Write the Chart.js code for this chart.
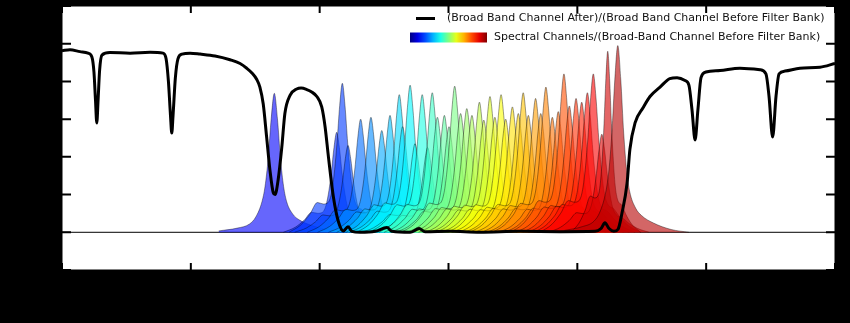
<!DOCTYPE html>
<html>
<head>
<meta charset="utf-8">
<script src="https://cdn.jsdelivr.net/npm/chart.js@4/dist/chart.umd.min.js"></script>
<style>
  html, body { margin: 0; padding: 0; background: #000; }
  #wrap { width: 850px; height: 323px; }
</style>
</head>
<body>
<div id="wrap"><canvas id="canvas" width="850" height="323"></canvas></div>
<script>
// broad band ratio (after / before filter bank)
const broadX = [0, 3.1, 7.0, 10.1, 11.6, 12.4, 13.0, 13.5, 14.0, 14.6, 15.5, 18.6, 26.4, 34.2, 39.2, 40.4, 41.3, 42.1, 42.6, 43.1, 44.0, 45.0, 46.6, 49.7, 53.6, 59.4, 65.2, 69.1, 71.7, 73.7, 75.6, 76.8, 78.1, 79.4, 80.7, 82.0, 82.7, 83.9, 85.3, 86.5, 88.5, 91.1, 92.8, 95.0, 96.9, 98.9, 100.8, 102.1, 103.4, 105.3, 107.2, 109.2, 111.0, 112.5, 115.7, 121.5, 126.1, 128.1, 135.1, 138.6, 140.9, 150.6, 162.2, 177.8, 193.3, 206.9, 209.2, 210.7, 212.3, 214.2, 215.8, 217.3, 219.3, 220.4, 222.4, 225.5, 228.2, 232.1, 235.9, 238.7, 241.8, 243.3, 244.5, 245.7, 246.8, 248.0, 249.9, 255.4, 263.1, 270.9, 273.2, 274.4, 275.8, 277.1, 278.3, 280.6, 286.4, 294.2, 300];
const broadY = [0.963, 0.968, 0.958, 0.95, 0.93, 0.85, 0.70, 0.58, 0.70, 0.86, 0.94, 0.953, 0.95, 0.955, 0.95, 0.92, 0.80, 0.62, 0.526, 0.62, 0.82, 0.92, 0.945, 0.95, 0.945, 0.935, 0.915, 0.895, 0.87, 0.845, 0.81, 0.77, 0.68, 0.507, 0.33, 0.21, 0.2, 0.28, 0.45, 0.63, 0.726, 0.76, 0.765, 0.757, 0.744, 0.72, 0.665, 0.56, 0.40, 0.19, 0.06, 0.007, 0.03, 0.005, 0.0, 0.005, 0.025, 0.005, 0.0, 0.02, 0.003, 0.005, 0.0, 0.005, 0.003, 0.005, 0.02, 0.05, 0.02, 0.005, 0.016, 0.1, 0.26, 0.44, 0.58, 0.66, 0.72, 0.77, 0.815, 0.82, 0.805, 0.78, 0.65, 0.49, 0.65, 0.82, 0.85, 0.858, 0.87, 0.862, 0.84, 0.72, 0.505, 0.72, 0.84, 0.855, 0.87, 0.875, 0.895];

// spectral channels: centre, peak height, half width
const peakCenters = [82.4, 106.6, 108.8, 111.0, 115.9, 119.9, 124.1, 127.3, 130.9, 132.2, 135.1, 137.0, 139.8, 141.9, 143.7, 145.7, 148.4, 150.2, 152.4, 154.7, 157.1, 159.1, 162.0, 163.7, 166.1, 168.0, 170.4, 172.2, 174.8, 177.1, 179.0, 181.0, 183.8, 185.8, 187.8, 190.3, 192.6, 194.8, 196.9, 199.5, 201.7, 203.9, 206.2, 209.5, 211.8, 215.7];
const peakHeights = [0.737, 0.53, 0.79, 0.46, 0.6, 0.61, 0.54, 0.62, 0.73, 0.56, 0.78, 0.47, 0.73, 0.45, 0.74, 0.61, 0.62, 0.56, 0.775, 0.63, 0.656, 0.62, 0.69, 0.595, 0.72, 0.61, 0.73, 0.6, 0.665, 0.63, 0.74, 0.62, 0.71, 0.63, 0.77, 0.61, 0.64, 0.84, 0.67, 0.71, 0.69, 0.74, 0.84, 0.52, 0.96, 0.99];
const peakWidths = [2.4, 2.3, 2.3, 2.3, 2.3, 2.3, 2.3, 2.3, 2.3, 2.3, 2.3, 2.3, 2.3, 2.3, 2.3, 2.3, 2.3, 2.3, 2.3, 2.3, 2.3, 2.3, 2.3, 2.3, 2.3, 2.3, 2.3, 2.3, 2.3, 2.3, 2.3, 2.3, 2.3, 2.3, 2.3, 2.3, 2.3, 2.3, 2.3, 2.3, 2.3, 2.3, 2.3, 2.3, 1.6, 2.3];
const smoothPeaks = [0, 45];

// normalised channel profile (offsets in half widths)
const shapeOffsets = [-9, -7, -5.5, -4.2, -3.2, -2.4, -1.8, -1.3, -0.9, -0.45, 0, 0.45, 0.9, 1.3, 1.8, 2.4, 3.4, 4.6, 6, 8];
const shapeValues = [0, 0.05, 0.12, 0.2, 0.19, 0.2, 0.27, 0.42, 0.6, 0.85, 1, 0.85, 0.6, 0.42, 0.26, 0.18, 0.15, 0.09, 0.04, 0];
const smoothOffsets = [-9, -6, -4, -3, -2, -1.5, -1, -0.5, 0, 0.5, 1, 1.5, 2, 3, 4, 6, 9, 12];
const smoothValues = [0.01, 0.03, 0.06, 0.11, 0.22, 0.33, 0.53, 0.82, 1, 0.82, 0.53, 0.33, 0.22, 0.13, 0.09, 0.05, 0.015, 0];

const legendLabels = ['(Broad Band Channel After)/(Broad Band Channel Before Filter Bank)', 'Spectral Channels/(Broad-Band Channel Before Filter Bank)'];

function jet(t, a) {
  const c = v => Math.round(255 * Math.max(0, Math.min(1, v)));
  const r = c(1.5 - Math.abs(4 * t - 3));
  const g = c(1.5 - Math.abs(4 * t - 2));
  const b = c(1.5 - Math.abs(4 * t - 1));
  return `rgba(${r},${g},${b},${a})`;
}

const datasets = [];
datasets.push({
  data: broadX.map((x, i) => ({ x: x, y: broadY[i] })),
  borderColor: '#000',
  borderWidth: 3,
  pointRadius: 0,
  fill: false,
  tension: 0.3,
  cubicInterpolationMode: 'monotone',
  order: 0
});
peakCenters.forEach((c, i) => {
  const smooth = smoothPeaks.includes(i);
  const offs = smooth ? smoothOffsets : shapeOffsets;
  const vals = smooth ? smoothValues : shapeValues;
  const t = Math.max(0.12, 0.16 + (c - 106) * 0.79 / 110);
  datasets.push({
    data: offs.map((o, k) => ({ x: c + o * peakWidths[i], y: peakHeights[i] * vals[k] })),
    borderColor: 'rgba(0,0,0,0.55)',
    borderWidth: 0.7,
    backgroundColor: jet(Math.min(1, t), 0.6),
    pointRadius: 0,
    fill: 'origin',
    tension: 0.35,
    cubicInterpolationMode: 'monotone',
    order: 100 - i
  });
});

const framePlugin = {
  id: 'frame',
  beforeDraw(chart) {
    const { ctx, chartArea: a } = chart;
    ctx.save();
    ctx.fillStyle = '#000';
    ctx.fillRect(0, 0, chart.width, chart.height);
    ctx.fillStyle = '#fff';
    ctx.fillRect(a.left, a.top, a.right - a.left, a.bottom - a.top);
    ctx.restore();
  },
  beforeDatasetsDraw(chart) {
    const { ctx, chartArea: a, scales } = chart;
    const y0 = scales.y.getPixelForValue(0);
    ctx.save();
    ctx.strokeStyle = '#000';
    ctx.lineWidth = 1;
    ctx.beginPath();
    ctx.moveTo(a.left, y0);
    ctx.lineTo(a.right, y0);
    ctx.stroke();
    ctx.restore();
  },
  afterDraw(chart) {
    const { ctx, chartArea: a, scales } = chart;
    ctx.save();
    ctx.strokeStyle = '#000';
    ctx.lineWidth = 2;
    scales.x.ticks.forEach(t => {
      const px = scales.x.getPixelForValue(t.value);
      ctx.beginPath();
      ctx.moveTo(px, a.bottom); ctx.lineTo(px, a.bottom - 7);
      ctx.moveTo(px, a.top); ctx.lineTo(px, a.top + 7);
      ctx.stroke();
    });
    scales.y.ticks.forEach(t => {
      const py = scales.y.getPixelForValue(t.value);
      ctx.beginPath();
      ctx.moveTo(a.left, py); ctx.lineTo(a.left + 9, py);
      ctx.moveTo(a.right, py); ctx.lineTo(a.right - 9, py);
      ctx.stroke();
    });
    ctx.lineWidth = 1;
    ctx.strokeRect(a.left, a.top, a.right - a.left, a.bottom - a.top);

    // legend
    ctx.font = '11px "DejaVu Sans"';
    ctx.fillStyle = '#111';
    ctx.textBaseline = 'middle';
    ctx.textAlign = 'left';
    const y1 = a.top + 12.5, y2 = a.top + 31.5;
    ctx.lineWidth = 3;
    ctx.beginPath();
    ctx.moveTo(a.right - 419, y1); ctx.lineTo(a.right - 400, y1);
    ctx.stroke();
    ctx.fillText(legendLabels[0], a.right - 388, y1);
    const gx = a.right - 425, gw = 77;
    const grad = ctx.createLinearGradient(gx, 0, gx + gw, 0);
    for (let k = 0; k <= 10; k++) grad.addColorStop(k / 10, jet(k / 10, 1));
    ctx.fillStyle = grad;
    ctx.fillRect(gx, y2 - 5, gw, 10);
    ctx.fillStyle = '#111';
    ctx.fillText(legendLabels[1], a.right - 341, y2);
    ctx.restore();
  }
};

const ctx = canvas.getContext('2d');
const chart = new Chart(ctx, {
  type: 'line',
  data: { datasets: datasets },
  options: {
    responsive: false,
    animation: false,
    layout: { padding: { top: 6, right: 15, left: 0, bottom: 0 } },
    plugins: { legend: { display: false }, tooltip: { enabled: false } },
    scales: {
      x: {
        type: 'linear', min: 0, max: 300,
        ticks: { display: false, stepSize: 50 },
        grid: { display: false, drawTicks: false },
        border: { display: false },
        afterFit: s => { s.height = 53; }
      },
      y: {
        min: -0.2, max: 1.2,
        ticks: { display: false, stepSize: 0.2 },
        grid: { display: false, drawTicks: false },
        border: { display: false },
        afterFit: s => { s.width = 62; }
      }
    }
  },
  plugins: [framePlugin]
});
</script>
</body>
</html>
